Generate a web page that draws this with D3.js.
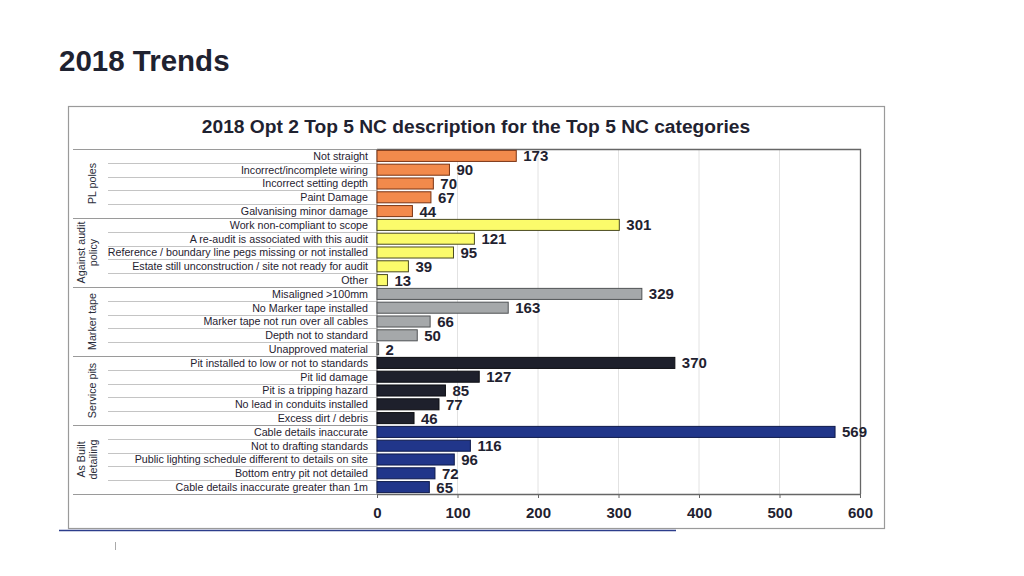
<!DOCTYPE html>
<html><head><meta charset="utf-8">
<script src="https://cdn.jsdelivr.net/npm/d3@7"></script>
<style>
html,body{margin:0;padding:0;background:#fff;}
svg{display:block;font-family:"Liberation Sans",Arial,Helvetica,sans-serif;}
</style></head>
<body>
<svg id="c" width="1024" height="576"></svg>
<script>
const groups = ["PL poles", "Against audit policy", "Marker tape", "Service pits", "As Built detailing"];
const groupLines = [["PL poles"], ["Against audit", "policy"], ["Marker tape"], ["Service pits"], ["As Built", "detailing"]];
const descPL = ["Not straight", "Incorrect/incomplete wiring", "Incorrect setting depth", "Paint Damage", "Galvanising minor damage"];
const valPL = [173, 90, 70, 67, 44];
const descAudit = ["Work non-compliant to scope", "A re-audit is associated with this audit", "Reference / boundary line pegs missing or not installed", "Estate still unconstruction / site not ready for audit", "Other"];
const valAudit = [301, 121, 95, 39, 13];
const descMarker = ["Misaligned >100mm", "No Marker tape installed", "Marker tape not run over all cables", "Depth not to standard", "Unapproved material"];
const valMarker = [329, 163, 66, 50, 2];
const descPits = ["Pit installed to low or not to standards", "Pit lid damage", "Pit is a tripping hazard", "No lead in conduits installed", "Excess dirt / debris"];
const valPits = [370, 127, 85, 77, 46];
const descBuilt = ["Cable details inaccurate", "Not to drafting standards", "Public lighting schedule different to details on site", "Bottom entry pit not detailed", "Cable details inaccurate greater than 1m"];
const valBuilt = [569, 116, 96, 72, 65];
const xTicks = [0, 100, 200, 300, 400, 500, 600];

const fills = ["#f28a4c", "#fbfb6b", "#a5a8aa", "#1e202c", "#21368a"];
const strokes = ["#7a3414", "#4a4a20", "#505355", "#0c0d12", "#0e1a4a"];

const descs = [descPL, descAudit, descMarker, descPits, descBuilt];
const vals = [valPL, valAudit, valMarker, valPits, valBuilt];
const rows = [];
descs.forEach((ds, g) => ds.forEach((d, i) => rows.push({key: g + "-" + i, g, label: d, v: vals[g][i]})));

const svg = d3.select("#c");
const textCol = "#1f2230";

svg.append("text").attr("x", 59).attr("y", 71).attr("font-size", 29.5).attr("font-weight", "bold")
  .attr("fill", textCol).text("2018 Trends");

// outer box
svg.append("rect").attr("x", 68.5).attr("y", 106.5).attr("width", 816).attr("height", 422)
  .attr("fill", "none").attr("stroke", "#9a9a9a").attr("stroke-width", 1.2);

svg.append("text").attr("x", 476).attr("y", 132.5).attr("text-anchor", "middle")
  .attr("font-size", 19.2).attr("font-weight", "bold").attr("fill", textCol)
  .text("2018 Opt 2 Top 5 NC description for the Top 5 NC categories");

const x = d3.scaleLinear().domain([0, 600]).range([377, 860]);
const y = d3.scaleBand().domain(rows.map(r => r.key)).range([149, 494]).paddingInner(0.2).paddingOuter(0.1);
const step = y.step();

// grid
svg.append("g").selectAll("line").data(xTicks.slice(1, -1)).join("line")
  .attr("x1", d => x(d)).attr("x2", d => x(d)).attr("y1", 149).attr("y2", 494)
  .attr("stroke", "#e2e2e2").attr("stroke-width", 1);

// row separator lines
const sepY = d3.range(rows.length + 1).map(i => 149 + i * (345 / rows.length));
svg.append("g").selectAll("line").data(sepY).join("line")
  .attr("x1", (d, i) => (i % 5 === 0) ? 73 : 108).attr("x2", 377)
  .attr("y1", d => Math.round(d) + 0.5).attr("y2", d => Math.round(d) + 0.5)
  .attr("stroke", (d, i) => (i % 5 === 0) ? "#9a9a9a" : "#c4c4c4").attr("stroke-width", 1);

// plot frame
svg.append("path").attr("d", `M377,149.5H860.5V494`).attr("fill", "none").attr("stroke", "#666").attr("stroke-width", 1.3);
svg.append("line").attr("x1", 377).attr("x2", 377).attr("y1", 149).attr("y2", 494).attr("stroke", "#888");

// bars
svg.append("g").selectAll("rect").data(rows).join("rect")
  .attr("x", x(0)).attr("y", r => y(r.key))
  .attr("width", r => Math.max(1, x(r.v) - x(0))).attr("height", y.bandwidth())
  .attr("fill", r => fills[r.g]).attr("stroke", r => strokes[r.g]).attr("stroke-width", 1);

// value labels
svg.append("g").selectAll("text").data(rows).join("text")
  .attr("x", r => x(r.v) + 7).attr("y", r => y(r.key) + y.bandwidth() / 2 + 5.5)
  .attr("font-size", 15).attr("font-weight", "bold").attr("fill", textCol)
  .text(r => r.v);

// category labels
svg.append("g").selectAll("text").data(rows).join("text")
  .attr("x", 368).attr("y", r => y(r.key) + y.bandwidth() / 2 + 3.8)
  .attr("text-anchor", "end").attr("font-size", 10.7).attr("fill", textCol)
  .text(r => r.label);

// group labels
groups.forEach((g, gi) => {
  const cy = 149 + (gi * 5 + 2.5) * step;
  const lines = groupLines[gi];
  lines.forEach((ln, li) => {
    const cx = lines.length === 1 ? 96 : 84.5 + li * 12.5;
    svg.append("text").attr("transform", `translate(${cx},${cy}) rotate(-90)`)
      .attr("text-anchor", "middle").attr("font-size", 10.7).attr("fill", "#2a2d3a")
      .text(ln);
  });
});

// x axis
const axis = svg.append("g").attr("transform", "translate(0,494)")
  .call(d3.axisBottom(x).tickValues(xTicks).tickSize(4).tickPadding(9).tickSizeOuter(0));
axis.select(".domain").attr("stroke", "#666").attr("stroke-width", 1.3);
axis.selectAll(".tick line").attr("stroke", "#666");
axis.selectAll("text").attr("font-size", 15).attr("font-weight", "bold").attr("fill", textCol)
  .attr("font-family", "Liberation Sans, Arial, sans-serif");

// footer decorations
svg.append("line").attr("x1", 59).attr("x2", 676).attr("y1", 530.5).attr("y2", 530.5)
  .attr("stroke", "#2c3d8c").attr("stroke-width", 1.5);
svg.append("line").attr("x1", 115.5).attr("x2", 115.5).attr("y1", 542).attr("y2", 550)
  .attr("stroke", "#aaa").attr("stroke-width", 1);
</script>
</body></html>
